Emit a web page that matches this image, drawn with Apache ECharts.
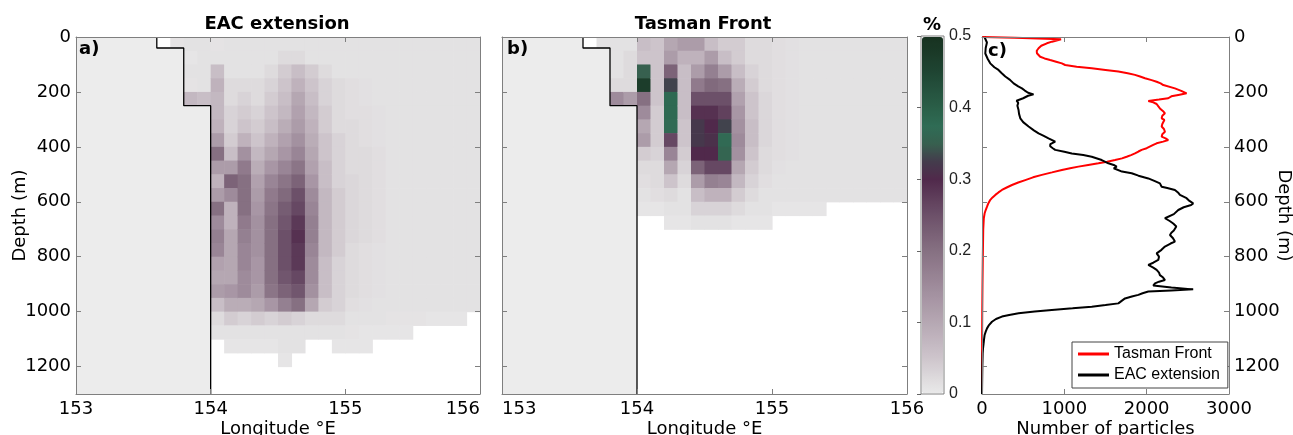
<!DOCTYPE html>
<html><head><meta charset="utf-8">
<script src="https://cdn.jsdelivr.net/npm/echarts/dist/echarts.min.js"></script>
<style>html,body{margin:0;padding:0;background:#fff}#c{width:1293px;height:435px}</style>
</head><body><div id="c"></div>
<script>
// ---------- data ----------
const lonBins = [153.6,153.7,153.8,153.9,154.0,154.1,154.2,154.3,154.4,154.5,154.6,154.7,154.8,154.9,155.0,155.1,155.2,155.3,155.4,155.5,155.6,155.7,155.8,155.9];
const depthBins = [0,50,100,150,200,250,300,350,400,450,500,550,600,650,700,750,800,850,900,950,1000,1050,1100,1150,1200,1250];
// % of particles per cell, one list per longitude bin, from the surface downward (missing = empty)
const eacPct = [
  [0],
  [0.008],
  [0.01,0.005,0.01,0.008,0.07],
  [0.01,0.01,0.01,0.01,0.06],
  [0.008,0.01,0.06,0.08,0.07,0.07,0.08,0.12,0.2,0.12,0.08,0.12,0.2,0.15,0.17,0.16,0.11,0.1,0.12,0.06,0.02,0.01],
  [0.01,0.01,0.01,0.02,0.02,0.03,0.03,0.04,0.06,0.12,0.22,0.15,0.08,0.08,0.1,0.1,0.1,0.1,0.13,0.09,0.04,0.01,0.005],
  [0.01,0.01,0.01,0.02,0.03,0.04,0.05,0.08,0.14,0.18,0.2,0.2,0.2,0.18,0.17,0.16,0.16,0.15,0.15,0.09,0.03,0.01,0.005],
  [0.01,0.01,0.01,0.02,0.02,0.03,0.04,0.05,0.07,0.09,0.11,0.12,0.13,0.14,0.14,0.14,0.13,0.13,0.12,0.1,0.04,0.01,0.005],
  [0.01,0.01,0.02,0.03,0.04,0.05,0.06,0.08,0.1,0.13,0.16,0.18,0.19,0.2,0.2,0.2,0.2,0.2,0.19,0.13,0.03,0.01,0.005],
  [0.01,0.02,0.04,0.05,0.06,0.07,0.09,0.11,0.13,0.16,0.19,0.21,0.23,0.24,0.25,0.25,0.25,0.24,0.22,0.17,0.04,0.01,0.01,0.005],
  [0.01,0.02,0.06,0.08,0.1,0.11,0.12,0.14,0.16,0.19,0.22,0.25,0.26,0.28,0.29,0.28,0.28,0.26,0.24,0.2,0.03,0.01,0.01],
  [0.01,0.01,0.04,0.05,0.06,0.07,0.08,0.09,0.1,0.11,0.13,0.15,0.16,0.17,0.17,0.16,0.15,0.15,0.14,0.1,0.02,0.01],
  [0.01,0.01,0.02,0.03,0.03,0.04,0.04,0.05,0.05,0.06,0.06,0.07,0.07,0.07,0.07,0.07,0.06,0.06,0.06,0.04,0.02,0.01],
  [0.01,0.01,0.01,0.02,0.02,0.02,0.02,0.03,0.03,0.03,0.03,0.04,0.04,0.04,0.04,0.04,0.03,0.03,0.03,0.03,0.02,0.01,0.005],
  [0.01,0.01,0.01,0.015,0.015,0.015,0.02,0.02,0.02,0.02,0.025,0.025,0.025,0.025,0.025,0.02,0.02,0.02,0.02,0.015,0.01,0.008,0.005],
  [0.01,0.01,0.01,0.012,0.012,0.015,0.015,0.015,0.02,0.02,0.02,0.02,0.02,0.02,0.02,0.015,0.015,0.015,0.015,0.012,0.01,0.005,0.005],
  [0.01,0.01,0.01,0.01,0.01,0.012,0.012,0.012,0.015,0.015,0.015,0.015,0.015,0.015,0.015,0.012,0.012,0.012,0.012,0.01,0.01,0.005],
  [0.01,0.01,0.01,0.01,0.01,0.01,0.01,0.01,0.01,0.01,0.01,0.01,0.01,0.01,0.01,0.01,0.01,0.01,0.01,0.01,0.008,0.005],
  [0.01,0.01,0.01,0.01,0.01,0.01,0.01,0.01,0.01,0.01,0.01,0.01,0.01,0.01,0.01,0.01,0.01,0.01,0.01,0.01,0.008,0.005],
  [0.01,0.01,0.01,0.01,0.01,0.01,0.01,0.01,0.01,0.01,0.01,0.01,0.01,0.01,0.01,0.01,0.01,0.01,0.01,0.01,0.008],
  [0.01,0.01,0.01,0.01,0.01,0.01,0.01,0.01,0.01,0.01,0.01,0.01,0.01,0.01,0.01,0.01,0.01,0.01,0.01,0.01,0.005],
  [0.01,0.01,0.01,0.01,0.01,0.01,0.01,0.01,0.01,0.01,0.01,0.01,0.01,0.01,0.01,0.01,0.01,0.01,0.01,0.01,0.005],
  [0.01,0.01,0.01,0.01,0.01,0.01,0.01,0.01,0.01,0.01,0.01,0.01,0.01,0.01,0.01,0.01,0.01,0.01,0.01,0.01,0.005],
  [0.01,0.01,0.01,0.01,0.01,0.01,0.01,0.01,0.01,0.01,0.01,0.01,0.01,0.01,0.01,0.01,0.01,0.01,0.01,0.01]
];
const tfPct = [
  [0],
  [0.01],
  [0.01,0.01,0.01,0.02,0.15],
  [0.01,0.02,0.02,0.02,0.12],
  [0.06,0.05,0.35,0.47,0.2,0.15,0.1,0.12,0.04,0.02,0.015,0.01,0.005],
  [0.05,0.05,0.05,0.05,0.05,0.04,0.04,0.04,0.03,0.02,0.02,0.015,0.005],
  [0.1,0.12,0.22,0.33,0.38,0.38,0.37,0.26,0.16,0.1,0.05,0.02,0.01,0.005],
  [0.12,0.08,0.06,0.06,0.06,0.06,0.05,0.05,0.04,0.03,0.02,0.01,0.01,0.005],
  [0.12,0.08,0.12,0.18,0.25,0.29,0.32,0.32,0.3,0.22,0.12,0.06,0.03,0.01],
  [0.06,0.12,0.17,0.21,0.25,0.29,0.3,0.31,0.3,0.26,0.17,0.08,0.03,0.01],
  [0.04,0.06,0.12,0.2,0.25,0.27,0.33,0.37,0.36,0.26,0.16,0.08,0.03,0.01],
  [0.04,0.04,0.06,0.09,0.11,0.13,0.14,0.15,0.14,0.1,0.07,0.04,0.02,0.005],
  [0.02,0.02,0.03,0.04,0.05,0.05,0.06,0.06,0.05,0.04,0.03,0.02,0.01,0.005],
  [0.02,0.02,0.02,0.02,0.025,0.025,0.025,0.025,0.02,0.02,0.015,0.01,0.01,0.005],
  [0.015,0.015,0.015,0.015,0.015,0.015,0.015,0.015,0.015,0.012,0.01,0.01,0.005],
  [0.012,0.012,0.012,0.012,0.012,0.012,0.012,0.012,0.012,0.01,0.01,0.01,0.005],
  [0.01,0.01,0.01,0.01,0.01,0.01,0.01,0.01,0.01,0.01,0.01,0.01,0.005],
  [0.01,0.01,0.01,0.01,0.01,0.01,0.01,0.01,0.01,0.01,0.01,0.01,0.005],
  [0.01,0.01,0.01,0.01,0.01,0.01,0.01,0.01,0.01,0.01,0.01,0.01],
  [0.01,0.01,0.01,0.01,0.01,0.01,0.01,0.01,0.01,0.01,0.01,0.01],
  [0.01,0.01,0.01,0.01,0.01,0.01,0.01,0.01,0.01,0.01,0.01,0.01],
  [0.01,0.01,0.01,0.01,0.01,0.01,0.01,0.01,0.01,0.01,0.01,0.01],
  [0.01,0.01,0.01,0.01,0.01,0.01,0.01,0.01,0.01,0.01,0.01,0.01],
  [0.01,0.01,0.01,0.01,0.01,0.01,0.01,0.01,0.01,0.01,0.01,0.01]
];
// shelf / coast outline (longitude, depth)
const bathyLon = [153.6,153.6,153.8,153.8,154.0,154.0];
const bathyDepth = [0,40,40,250,250,1300];
// particle counts against depth
const tfDepth = [0,3,8,11,17,23,32,41,50,59,66,72,78,84,90,96,102,108,114,120,126,132,138,144,150,157,163,169,175,181,187,196,205,210,216,223,228,233,238,244,252,260,270,278,287,296,302,308,317,326,335,345,354,363,369,375,381,387,393,399,405,411,417,424,430,436,442,448,454,460,466,472,478,484,493,502,511,521,530,539,548,557,566,575,584,593,605,618,630,642,660,700,800,900,1000,1100,1300];
const tfCount = [0,400,960,929,850,788,720,687,665,667,680,707,760,828,900,970,1010,1150,1333,1500,1656,1770,1858,1920,1980,2060,2121,2170,2202,2220,2343,2420,2485,2400,2300,2262,2150,2020,2080,2121,2140,2161,2200,2222,2190,2182,2215,2222,2190,2182,2210,2222,2190,2182,2230,2262,2200,2121,2080,2060,2000,1939,1900,1858,1810,1757,1700,1616,1520,1414,1290,1171,1070,970,850,727,620,525,440,364,300,242,200,162,128,101,78,61,45,32,22,15,10,6,3,1,0];
const eacDepth = [0,20,40,60,80,96,110,120,132,144,156,169,180,187,195,203,209,214,223,232,240,250,266,280,296,310,326,340,351,360,369,381,390,398,405,411,418,424,430,436,448,460,466,472,478,484,490,496,505,515,525,533,540,545,550,557,566,575,587,597,606,612,620,630,645,660,670,679,690,697,705,713,721,733,745,752,763,775,788,800,812,822,830,840,848,858,867,876,885,891,897,905,912,919,923,927,933,939,945,952,960,970,976,982,988,994,1000,1006,1012,1018,1027,1037,1049,1061,1073,1085,1100,1115,1135,1152,1200,1250,1300];
const eacCount = [30,60,45,40,70,100,150,200,240,283,340,384,440,485,520,560,626,560,500,420,440,430,444,450,465,500,566,630,687,750,808,889,830,828,860,889,1000,1091,1230,1333,1454,1535,1600,1636,1600,1616,1700,1818,1900,2020,2100,2161,2170,2182,2250,2343,2380,2404,2485,2520,2565,2540,2450,2384,2330,2222,2280,2323,2360,2384,2330,2300,2283,2320,2343,2290,2222,2180,2121,2150,2141,2080,2020,2080,2121,2150,2161,2200,2222,2150,2101,2080,2300,2565,2300,2020,1950,1899,1820,1737,1700,1656,1500,1333,1100,848,640,444,330,242,170,121,85,61,45,32,25,20,12,8,4,2,0];

// ---------- style constants ----------
const FONT = 'DejaVu Sans';
const GRAY = '#7f7f7f';
const LON_STEP = 0.1, DEPTH_STEP = 50;
const LON_MIN = 153, LON_MAX = 156, DEPTH_MAX = 1300;
const cmap = ['#e9e9e9','#dbd7da','#cdc4cb','#c1b5bf','#b5a7b2','#aa99a7','#9e8b9b','#927d8e','#867082','#796075','#6c5069','#5e3d5a','#50294b','#443c4c','#37604f','#2f6c55','#2a5f48','#25523e','#1f4533','#1b3b29','#173220'];

function cells(mat) {
  const out = [];
  mat.forEach((col, i) => col.forEach((v, j) => { if (v > 0) out.push([lonBins[i], depthBins[j], v]); }));
  return out;
}
const bathyPts = bathyLon.map((x, i) => [x, bathyDepth[i]]);

function renderCell(params, api) {
  const x0 = api.value(0), y0 = api.value(1);
  const a = api.coord([x0, y0]);
  const b = api.coord([x0 + LON_STEP, y0 + DEPTH_STEP]);
  return {type:'rect', shape:{x:Math.min(a[0],b[0]), y:Math.min(a[1],b[1]), width:Math.abs(b[0]-a[0])+0.6, height:Math.abs(b[1]-a[1])+0.6},
          style:{fill: api.visual('color')}};
}
function renderLand(params, api) {
  if (params.dataIndex !== 0) return null;
  const pts = [[LON_MIN, 0]].concat(bathyPts).concat([[LON_MIN, DEPTH_MAX]]);
  return {type:'polygon', shape:{points: pts.map(p => api.coord(p))}, style:{fill:'#ececec'}};
}

const plain = v => String(v);
const lbl = {show:true, color:'#000', fontFamily:FONT, fontSize:18, margin:5, formatter:plain};
const xlbl = Object.assign({}, lbl, {margin:6});
const nameStyle = {color:'#000', fontFamily:FONT, fontSize:18};
function ax(o) {
  return Object.assign({
    type:'value', z:5, nameMoveOverlap:false,
    axisLine:{show:true, onZero:false, lineStyle:{color:GRAY, width:1}},
    axisTick:{show:true, inside:true, length:5, lineStyle:{color:GRAY}},
    axisLabel:{show:false}, splitLine:{show:false}
  }, o);
}
function lonAxes(g, minAlign, maxAlign) {
  return [
    ax({gridIndex:g, position:'bottom', min:LON_MIN, max:LON_MAX, interval:1,
        axisLabel:Object.assign({}, xlbl, {alignMinLabel:minAlign, alignMaxLabel:maxAlign}),
        name:'Longitude °E', nameLocation:'middle', nameGap:26, nameTextStyle:nameStyle}),
    ax({gridIndex:g, position:'top', min:LON_MIN, max:LON_MAX, interval:1})
  ];
}
function depthAxes(g, withLabels) {
  return [
    ax(Object.assign({gridIndex:g, position:'left', min:0, max:DEPTH_MAX, interval:200, inverse:true},
      withLabels ? {axisLabel:Object.assign({}, lbl, {showMaxLabel:false}), name:'Depth (m)', nameLocation:'middle', nameGap:47, nameRotate:90, nameTextStyle:nameStyle} : {})),
    ax({gridIndex:g, position:'right', min:0, max:DEPTH_MAX, interval:200, inverse:true})
  ];
}
const gridBase = {outerBoundsMode:'none', containLabel:false};

const option = {
  animation:false,
  graphic:[
    {type:'text', x:277, y:24, style:{text:'EAC extension', font:'bold 18px "DejaVu Sans"', fill:'#000', align:'center', verticalAlign:'middle'}},
    {type:'text', x:703, y:24, style:{text:'Tasman Front', font:'bold 18px "DejaVu Sans"', fill:'#000', align:'center', verticalAlign:'middle'}},
    {type:'text', x:932, y:25, style:{text:'%', font:'bold 18px "DejaVu Sans"', fill:'#000', align:'center', verticalAlign:'middle'}},
    {type:'text', x:79, y:49, z:10, style:{text:'a)', font:'bold 18px "DejaVu Sans"', fill:'#000', align:'left', verticalAlign:'middle'}},
    {type:'text', x:507, y:49, z:10, style:{text:'b)', font:'bold 18px "DejaVu Sans"', fill:'#000', align:'left', verticalAlign:'middle'}},
    {type:'text', x:988, y:51, z:10, style:{text:'c)', font:'bold 18px "DejaVu Sans"', fill:'#000', align:'left', verticalAlign:'middle'}}
  ],
  grid:[
    Object.assign({left:76, top:37, width:404, height:357}, gridBase),
    Object.assign({left:502, top:37, width:405, height:357}, gridBase),
    Object.assign({left:921, top:36, width:23, height:358, show:true, borderColor:GRAY, borderWidth:1, backgroundColor:'transparent'}, gridBase),
    Object.assign({left:982, top:37, width:247, height:357}, gridBase)
  ],
  xAxis:[
    ...lonAxes(0, 'center', 'right'),
    ...lonAxes(1, 'left', 'center'),
    {type:'value', gridIndex:2, min:0, max:1, show:false},
    ax({gridIndex:3, position:'bottom', min:0, max:3000, interval:1000, axisLabel:xlbl,
        name:'Number of particles', nameLocation:'middle', nameGap:26, nameTextStyle:nameStyle}),
    ax({gridIndex:3, position:'top', min:0, max:3000, interval:1000})
  ],
  yAxis:[
    ...depthAxes(0, true),
    ...depthAxes(1, false),
    ax({gridIndex:2, position:'right', min:0, max:0.5, interval:0.1, z:10,
        axisLine:{show:false}, axisTick:{show:true, inside:true, length:4, lineStyle:{color:'#666'}},
        axisLabel:{show:true, color:'#222', fontFamily:'Liberation Sans', fontSize:16, margin:5}}),
    ax({gridIndex:3, position:'right', min:0, max:DEPTH_MAX, interval:200, inverse:true,
        axisLabel:Object.assign({}, lbl, {showMaxLabel:false}),
        name:'Depth (m)', nameLocation:'middle', nameGap:46, nameRotate:-90, nameTextStyle:nameStyle}),
    ax({gridIndex:3, position:'left', min:0, max:DEPTH_MAX, interval:200, inverse:true})
  ],
  visualMap:{
    type:'continuous', min:0, max:0.5, seriesIndex:[0,3], dimension:2,
    inRange:{color:cmap}, calculable:false, hoverLink:false, realtime:false,
    left:922, top:37, itemWidth:21, itemHeight:356, padding:0, text:null
  },
  legend:{
    data:['Tasman Front','EAC extension'], orient:'vertical', left:1072, top:342, z:10,
    padding:[4,8,5,6], itemGap:5, itemWidth:31, itemHeight:3, icon:'rect',
    borderColor:'#444', borderWidth:1, backgroundColor:'#fff', selectedMode:false,
    textStyle:{fontFamily:'Liberation Sans', fontSize:16, color:'#000', lineHeight:16}
  },
  series:[
    {type:'custom', name:'eacCells', xAxisIndex:0, yAxisIndex:0, renderItem:renderCell, clip:true,
     dimensions:['lon','depth','pct'], encode:{x:0, y:1}, data:cells(eacPct)},
    {type:'custom', name:'landA', xAxisIndex:0, yAxisIndex:0, renderItem:renderLand, clip:true, silent:true,
     encode:{x:0, y:1}, data:bathyPts},
    {type:'line', name:'coastA', xAxisIndex:0, yAxisIndex:0, data:bathyPts, showSymbol:false, symbol:'none', silent:true,
     lineStyle:{color:'#000', width:1.3}},
    {type:'custom', name:'tfCells', xAxisIndex:2, yAxisIndex:2, renderItem:renderCell, clip:true,
     dimensions:['lon','depth','pct'], encode:{x:0, y:1}, data:cells(tfPct)},
    {type:'custom', name:'landB', xAxisIndex:2, yAxisIndex:2, renderItem:renderLand, clip:true, silent:true,
     encode:{x:0, y:1}, data:bathyPts},
    {type:'line', name:'coastB', xAxisIndex:2, yAxisIndex:2, data:bathyPts, showSymbol:false, symbol:'none', silent:true,
     lineStyle:{color:'#000', width:1.3}},
    {type:'line', name:'Tasman Front', xAxisIndex:5, yAxisIndex:5, symbol:'none', color:'#ff0000',
     lineStyle:{color:'#ff0000', width:2}, data:tfCount.map((c, i) => [c, tfDepth[i]])},
    {type:'line', name:'EAC extension', xAxisIndex:5, yAxisIndex:5, symbol:'none', color:'#000',
     lineStyle:{color:'#000', width:2}, data:eacCount.map((c, i) => [c, eacDepth[i]])}
  ]
};
const chart = echarts.init(document.getElementById('c'), null, {renderer:'canvas'});
chart.setOption(option);
</script>
</body></html>
